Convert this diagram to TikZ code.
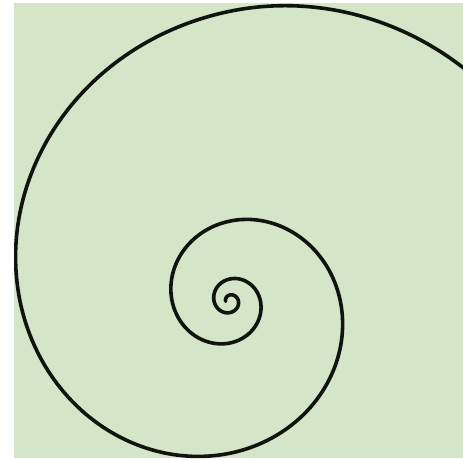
\documentclass[tikz,border=0pt]{standalone}
\definecolor{bggreen}{RGB}{213,230,200}
\definecolor{inkdark}{RGB}{15,20,15}
\tikzset{spiralline/.style={draw=inkdark, line width=3.6pt, line cap=round, line join=round}}
\begin{document}
\begin{tikzpicture}[x=1pt,y=1pt,
  declare function={rr(\t)=210*exp(-0.205*(\t-180)*pi/180)*(1-0.000015*(max(0,90-\t))^2);}]
\useasboundingbox (0,0) rectangle (463,459);
\fill[white] (0,0) rectangle (463,459);
\fill[bggreen] (14,1) rectangle (463,456);
\begin{scope}
\clip (14,1) rectangle (463,456);
\draw[spiralline] plot[domain=30:1265, samples=500, smooth, variable=\a]
  ({230 + rr(\a)*cos(\a)}, {158 + rr(\a)*sin(\a)});
\end{scope}
\end{tikzpicture}
\end{document}
